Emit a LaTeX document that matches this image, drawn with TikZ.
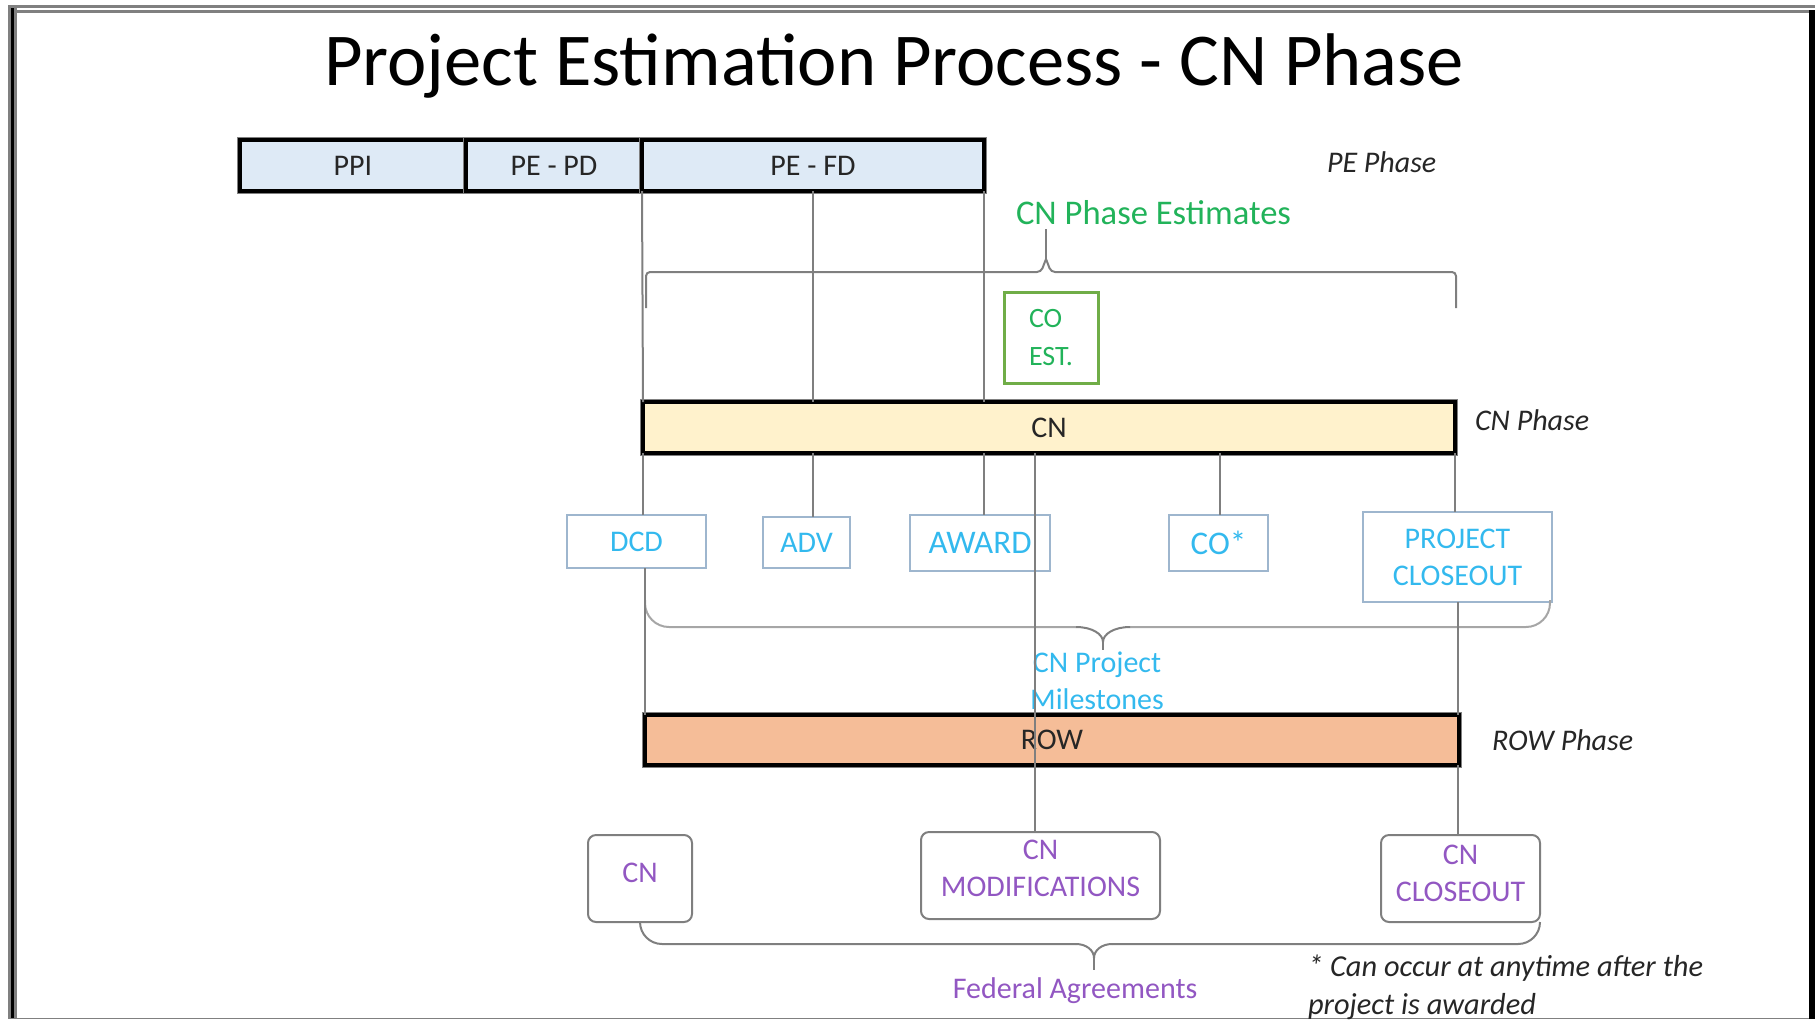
\documentclass[tikz,border=0pt]{standalone}
\usepackage{fontspec}
\setmainfont{Carlito}
\definecolor{framegray}{HTML}{808080}
\definecolor{linegray}{HTML}{7F7F7F}
\definecolor{bracelight}{HTML}{A6A6A6}
\definecolor{pefill}{HTML}{DEEAF6}
\definecolor{cnfill}{HTML}{FFF2CC}
\definecolor{rowfill}{HTML}{F5BD98}
\definecolor{mstext}{HTML}{33B9EE}
\definecolor{msborder}{HTML}{9EB6CE}
\definecolor{fatext}{HTML}{9257C2}
\definecolor{esttext}{HTML}{22B35A}
\definecolor{estborder}{HTML}{70AD47}
\definecolor{labelblack}{HTML}{262626}
\begin{document}
\begin{tikzpicture}[x=0.5pt,y=-0.5pt,
  every node/.style={inner sep=0pt, outer sep=0pt},
  txt/.style={font=\fontsize{15}{18.5}\selectfont},
  bigtxt/.style={font=\fontsize{16.5}{20}\selectfont},
  phasebar/.style={draw=black, line width=1.6pt, preaction={draw=framegray, line width=2.8pt}, txt, text=labelblack},
  pebar/.style={phasebar, fill=pefill, minimum height=25.5pt},
  msbox/.style={draw=msborder, line width=1pt, text=mstext, txt, align=center},
  fabox/.style={draw=linegray, line width=1pt, rounded corners=4pt, text=fatext, txt, align=center, minimum height=43.5pt},
  phaselabel/.style={txt, font=\fontsize{15}{18.5}\selectfont\itshape, text=labelblack, anchor=base west},
  conn/.style={draw=linegray, line width=1pt},
  bracestyle/.style={draw=linegray, line width=1pt},
]
\useasboundingbox (0,0) rectangle (1820,1019);

% frame
\fill[framegray] (8,5) rectangle (1815,8);
\fill[framegray] (8,10) rectangle (1809,13);
\fill[framegray] (8,5) rectangle (17,1019);
\fill[black] (11,8) rectangle (14,1019);
\fill[black] (1809,10) rectangle (1815,1019);
\draw[framegray, line width=0.6pt] (8,1018.4) -- (1809,1018.4);

% title
\node[font=\fontsize{37.3}{45}\selectfont, text=black, anchor=base] (title) at (894,85) {Project Estimation Process - CN Phase};

% PE phase bars
\node[pebar, minimum width=113pt] (ppi) at (353,165.5) {PPI};
\node[pebar, minimum width=88pt] (pepd) at (554,165.5) {PE - PD};
\node[pebar, minimum width=171pt] (pefd) at (813,165.5) {PE - FD};
\node[phaselabel] (pephase) at (1327,172) {PE Phase};

% CN phase estimates
\node[font=\fontsize{17.3}{21}\selectfont, text=esttext, anchor=base west] (cnest) at (1016,224) {CN Phase Estimates};
\draw[bracestyle, rounded corners=2pt] (646,308) -- (646,272) -- (1041,272) -- (1046,259);
\draw[bracestyle, rounded corners=2pt] (1046,259) -- (1051,272) -- (1456,272) -- (1456,308);
\draw[bracestyle] (1046,259) -- (1046,229);
\node[draw=estborder, line width=1.5pt, minimum width=47pt, minimum height=45.5pt, text=esttext, font=\fontsize{14}{19}\selectfont, align=left] (coest) at (1051,337.5) {CO\\EST.};

% CN bar
\node[phasebar, fill=cnfill, minimum width=406pt, minimum height=25.5pt] (cnbar) at (1049,427.5) {CN};
\node[phaselabel] (cnphase) at (1475,430) {CN Phase};

% milestones
\node[msbox, minimum width=69.5pt, minimum height=26.5pt] (dcd) at (636.5,541.5) {DCD};
\node[msbox, minimum width=43.5pt, minimum height=25.5pt] (adv) at (806.5,542.5) {ADV};
\node[msbox, bigtxt, minimum width=70pt, minimum height=28pt] (award) at (980,543) {AWARD};
\node[msbox, bigtxt, minimum width=49.5pt, minimum height=28pt] (cost) at (1218.5,543) {CO*};
\node[msbox, minimum width=94.5pt, minimum height=45pt] (pclose) at (1457.5,557) {PROJECT\\CLOSEOUT};

% milestones brace
\draw[draw=bracelight, line width=1pt, rounded corners=12pt] (645,600) -- (645,627) -- (1076,627);
\draw[draw=bracelight, line width=1pt, rounded corners=12pt] (1130,627) -- (1550,627) -- (1550,600);
\draw[bracestyle] (1076,627) .. controls (1092,627) and (1103,634) .. (1103,642);
\draw[bracestyle] (1103,642) .. controls (1103,634) and (1114,627) .. (1130,627);
\draw[bracestyle] (1103,642) -- (1103,650);
\node[txt, text=mstext, align=center] (mslabel) at (1097,681) {CN Project\\Milestones};

% ROW bar
\node[phasebar, fill=rowfill, minimum width=407pt, minimum height=25pt] (rowbar) at (1052,740) {ROW};
\node[phaselabel] (rowphase) at (1492,750) {ROW Phase};

% federal agreements
\node[fabox, minimum width=52pt, text depth=6pt] (fcn) at (640,878.5) {CN};
\node[fabox, minimum width=119.5pt, text depth=7pt] (fmods) at (1040.5,875.5) {CN\\MODIFICATIONS};
\node[fabox, minimum width=79.5pt, text depth=5pt] (fclose) at (1460.5,878.5) {CN\\CLOSEOUT};
\draw[bracestyle, rounded corners=11pt] (fcn.south) -- (fcn.south |- 0,944) -- (1076,944);
\draw[bracestyle, rounded corners=11pt] (1112,944) -- (fclose.south east |- 0,944) -- (fclose.south east);
\draw[bracestyle] (1076,944) .. controls (1086,944) and (1094,950) .. (1094,958);
\draw[bracestyle] (1094,958) .. controls (1094,950) and (1102,944) .. (1112,944);
\draw[bracestyle] (1094,958) -- (1094,970);
\node[txt, text=fatext, anchor=base] (fedlabel) at (1075,998) {Federal Agreements};
\node[txt, font=\fontsize{15.2}{19}\selectfont\itshape, text=labelblack, anchor=north west, align=left] (note) at (1308,955) {* Can occur at anytime after the\\project is awarded};

% connectors
\coordinate (xb) at (813,0);
\coordinate (xd) at (1035,0);
\coordinate (xe) at (1220,0);
\draw[conn] (pefd.south west) -- (cnbar.north west);
\draw[conn] (xb |- pefd.south) -- (xb |- cnbar.north);
\draw[conn] (pefd.south east) -- (pefd.south east |- cnbar.north);
\draw[conn] (cnbar.south west) -- (cnbar.south west |- dcd.north);
\draw[conn] (xb |- cnbar.south) -- (xb |- adv.north);
\draw[conn] (pefd.south east |- cnbar.south) -- (pefd.south east |- award.north);
\draw[conn] (xe |- cnbar.south) -- (xe |- cost.north);
\draw[conn] (cnbar.south east) -- (cnbar.south east |- pclose.north);
\draw[conn] (rowbar.north west |- dcd.south) -- (rowbar.north west);
\draw[conn] (pclose.south) -- (pclose.south |- rowbar.north);
\draw[conn] (pclose.south |- rowbar.south) -- (pclose.south |- fclose.north);
\draw[conn] (xd |- cnbar.south) -- (xd |- fmods.north);
\end{tikzpicture}
\end{document}
